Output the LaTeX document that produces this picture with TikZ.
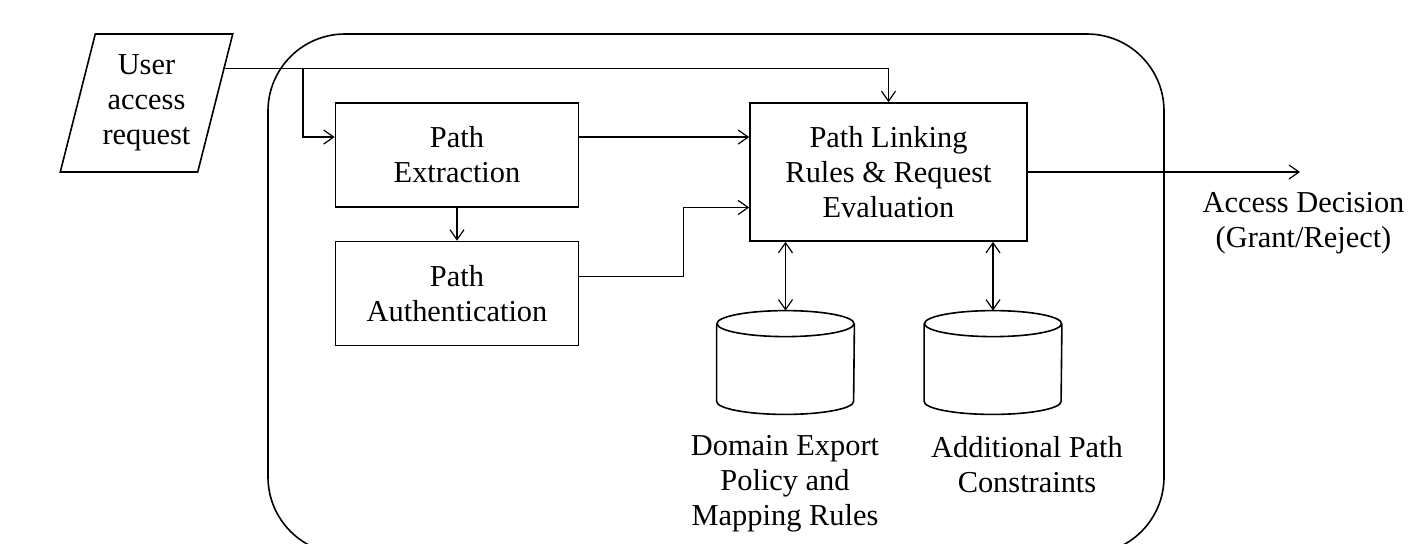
\documentclass[tikz,border=0pt]{standalone}
\usepackage{fontspec}
\setmainfont{Liberation Serif}
\usetikzlibrary{arrows.meta, shapes.geometric, calc}

\tikzset{
  box/.style={draw, line width=0.8pt, minimum width=121.5pt, minimum height=52pt, align=center, inner sep=0pt},
  req/.style={draw, line width=0.8pt, trapezium, trapezium left angle=72.7, trapezium right angle=107.3, trapezium stretches=true, minimum width=86.5pt, minimum height=69pt, align=center, inner sep=0pt},
  can/.style={minimum width=68.5pt, minimum height=51.5pt, inner sep=0pt},
  canline/.style={line width=0.8pt},
  txt/.style={align=center, inner sep=0pt},
  arr/.style={-{Straight Barb[length=5pt,width=7pt]}, line width=0.6pt},
  biarr/.style={{Straight Barb[length=5pt,width=7pt]}-{Straight Barb[length=5pt,width=7pt]}, line width=0.6pt},
}

\begin{document}
\begin{tikzpicture}[x=0.5pt,y=0.5pt,yscale=-1,font=\fontsize{15.2}{17.5}\selectfont]
\useasboundingbox (0,0) rectangle (1412,543);

%Shape: Rounded Rect (system boundary)
\draw [line width=0.8pt, rounded corners=38.5pt] (268,34) rectangle (1164,554);

%Shape: Parallelogram
\node [req] (req) at (146.5,103) {User\\access\\request};
%Shape: Rectangle
\node [box] (ext) at (457,155) {Path\\Extraction};
%Shape: Rectangle
\node [box] (auth) at (457,293.5) {Path\\Authentication};
%Shape: Rectangle
\node [box, minimum width=138.5pt, minimum height=69pt] (link) at (888.5,172) {Path Linking\\Rules \& Request\\Evaluation};

%Shape: Can
\node [can] (db1) at (785.5,362.5) {};
\draw [canline] ($(db1.north)+(0,13)$) ellipse [x radius=68.5, y radius=13];
\draw [canline] ($(db1.north west)+(0,13)$) -- ($(db1.south west)+(0,-13)$) arc [start angle=180, end angle=0, x radius=68.5, y radius=13] -- ($(db1.north east)+(0,13)$);
%Shape: Can
\node [can] (db2) at (993,362.5) {};
\draw [canline] ($(db2.north)+(0,13)$) ellipse [x radius=68.5, y radius=13];
\draw [canline] ($(db2.north west)+(0,13)$) -- ($(db2.south west)+(0,-13)$) arc [start angle=180, end angle=0, x radius=68.5, y radius=13] -- ($(db2.north east)+(0,13)$);

%Text
\node [txt] (db1txt) at (785,484) {Domain Export\\Policy and\\Mapping Rules};
\node [txt] (db2txt) at (1027,465) {Additional Path\\Constraints};
\node [txt] (dec) at (1303.5,223) {Access Decision\\(Grant/Reject)};

\coordinate (split) at (303,69);
\coordinate (out) at (1300,172);

%Straight Lines
\draw [arr] ($(req.top right corner)!0.254!(req.bottom right corner)$) -| (link.north);
%Straight Lines
\draw [arr] (split) |- ($(ext.north west)!0.33!(ext.south west)$);
%Straight Lines
\draw [arr] ($(ext.north east)!0.33!(ext.south east)$) coordinate (e1) -- (e1 -| link.west);
%Straight Lines
\draw [arr] (ext) -- (auth);
%Straight Lines
\draw [arr] ($(auth.north east)!0.34!(auth.south east)$) -- ++(104,0) |- ($(link.north west)!0.754!(link.south west)$);
%Straight Lines
\draw [biarr] (link.south -| db1.north) -- (db1.north);
\draw [biarr] (link.south -| db2.north) -- (db2.north);
%Straight Lines
\draw [arr] (link.east) -- (out);

\end{tikzpicture}
\end{document}
